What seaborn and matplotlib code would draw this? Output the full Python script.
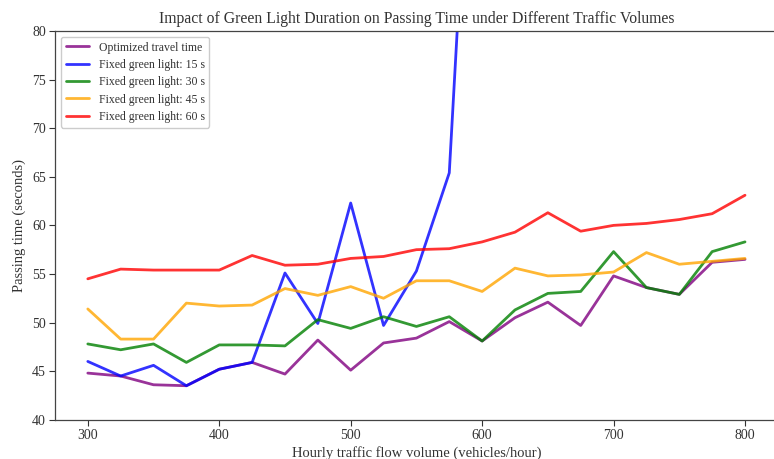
import numpy as np
import pandas as pd
import matplotlib
matplotlib.use("Agg")
import matplotlib.pyplot as plt
import seaborn as sns

volumes = [300, 325, 350, 375, 400, 425, 450, 475, 500, 525, 550,
           575, 600, 625, 650, 675, 700, 725, 750, 775, 800]
optimized = [44.8, 44.5, 43.6, 43.5, 45.2, 45.9, 44.7, 48.2, 45.1, 47.9, 48.4,
             50.1, 48.1, 50.5, 52.1, 49.7, 54.8, 53.6, 52.9, 56.2, 56.5]
fixed_15 = [46.0, 44.5, 45.6, 43.5, 45.2, 45.9, 55.1, 49.9, 62.3, 49.7, 55.3,
            65.4, 126.0, 170.0, 220.0, 280.0, 350.0, 430.0, 520.0, 620.0, 730.0]
fixed_30 = [47.8, 47.2, 47.8, 45.9, 47.7, 47.7, 47.6, 50.3, 49.4, 50.6, 49.6,
            50.6, 48.1, 51.3, 53.0, 53.2, 57.3, 53.6, 52.9, 57.3, 58.3]
fixed_45 = [51.4, 48.3, 48.3, 52.0, 51.7, 51.8, 53.5, 52.8, 53.7, 52.5, 54.3,
            54.3, 53.2, 55.6, 54.8, 54.9, 55.2, 57.2, 56.0, 56.3, 56.6]
fixed_60 = [54.5, 55.5, 55.4, 55.4, 55.4, 56.9, 55.9, 56.0, 56.6, 56.8, 57.5,
            57.6, 58.3, 59.3, 61.3, 59.4, 60.0, 60.2, 60.6, 61.2, 63.1]

labels = ["Optimized travel time", "Fixed green light: 15 s",
          "Fixed green light: 30 s", "Fixed green light: 45 s",
          "Fixed green light: 60 s"]
colors = ["purple", "blue", "green", "orange", "red"]

series = [optimized, fixed_15, fixed_30, fixed_45, fixed_60]
frames = []
for lab, vals in zip(labels, series):
    frames.append(pd.DataFrame({"volume": volumes, "time": vals, "series": lab}))
df = pd.concat(frames, ignore_index=True)

sns.set_theme(style="ticks")
plt.rcParams["font.family"] = ["Liberation Serif", "DejaVu Serif"]

fig = plt.figure(figsize=(7.74, 4.59), dpi=100)
ax = fig.add_axes([0.071, 0.0855, 0.934, 0.847])

sns.lineplot(data=df, x="volume", y="time", hue="series", hue_order=labels,
             palette=dict(zip(labels, colors)), linewidth=2, alpha=0.8, ax=ax)

ax.set_ylim(40, 80)
ax.set_xlim(275, 825)
ax.set_xticks([300, 400, 500, 600, 700, 800])
ax.set_yticks([40, 45, 50, 55, 60, 65, 70, 75, 80])
ax.tick_params(labelsize=10, colors="#333333", length=4.5, width=0.8, pad=2)
for s in ax.spines.values():
    s.set_color("#444444")
    s.set_linewidth(0.9)
ax.set_title("Impact of Green Light Duration on Passing Time under Different Traffic Volumes",
             fontsize=11.3, color="#333333", pad=6)
ax.set_xlabel("Hourly traffic flow volume (vehicles/hour)", fontsize=10.5, color="#333333", labelpad=3)
ax.set_ylabel("Passing time (seconds)", fontsize=10.5, color="#333333", labelpad=4)
leg = ax.legend(loc="upper left", fontsize=8.5, frameon=True, framealpha=1.0,
                edgecolor="#cccccc", fancybox=True, labelspacing=0.45)
for t in leg.get_texts():
    t.set_color("#333333")

fig.savefig("out.png", dpi=100)
